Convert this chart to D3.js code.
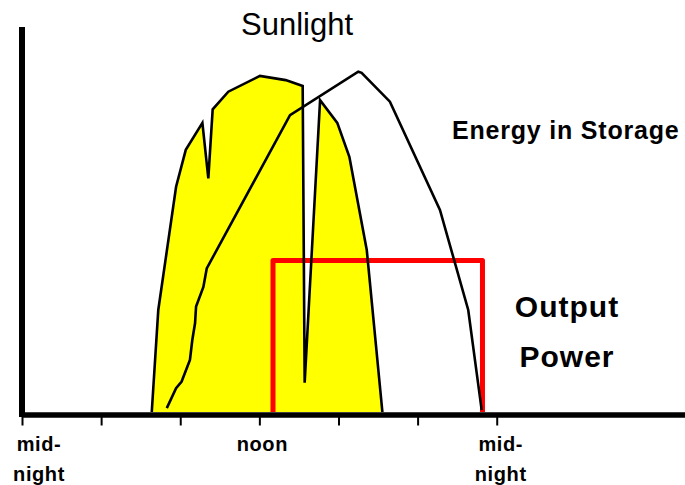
<!DOCTYPE html>
<html>
<head>
<meta charset="utf-8">
<script src="https://cdn.jsdelivr.net/npm/d3@7"></script>
<style>
  body { margin: 0; background: #fff; }
  text { font-family: "Liberation Sans", Arial, sans-serif; fill: #000; }
</style>
</head>
<body>
<div id="chart"></div>
<script>
// hours since midnight, storage/sun level 0..100
var sunHours = [6.56, 6.89, 7.79, 8.28, 9.12, 9.42, 9.64, 10.43, 12.03, 13.33, 14.19, 14.29, 15.07, 15.94, 16.55, 17.43, 18.22];
var sunValues = [0, 26.5, 58.5, 68.1, 75.1, 60.7, 78.6, 83.2, 87.3, 86.2, 84.7, 7.6, 81.0, 75.1, 66.3, 42.1, 0];

var energyHours = [7.32, 7.79, 8.07, 8.49, 8.61, 8.75, 8.80, 9.17, 9.34, 13.55, 17.00, 17.17, 18.60, 21.13, 22.56, 23.24];
var energyValues = [1.0, 6.2, 7.9, 13.5, 18.7, 23.1, 27.4, 32.5, 37.3, 77.1, 88.4, 88.1, 80.6, 52.5, 26.5, 0.5];

var outputHours = [12.69, 12.69, 23.28, 23.28];
var outputValues = [0, 39.35, 39.35, 0];

var tickHours = [0, 4, 8, 12, 16, 20, 24];
var labelHours = [0, 12, 24];
var labelLines = [["mid-", "night"], ["noon"], ["mid-", "night"]];

var width = 685, height = 485;

var svg = d3.select("#chart")
	.append("svg")
		.attr("width", width)
		.attr("height", height);

// scales
var x = d3.scaleLinear()
	.domain([0, 34])
	.range([22, 22 + 34 * 19.78]);

var y = d3.scaleLinear()
	.domain([0, 100])
	.range([412, 27]);

var sun = sunHours.map(function(h, i){ return {h: h, v: sunValues[i]}; });
var energy = energyHours.map(function(h, i){ return {h: h, v: energyValues[i]}; });
var output = outputHours.map(function(h, i){ return {h: h, v: outputValues[i]}; });

var line = d3.line()
	.x(function(d){ return x(d.h); })
	.y(function(d){ return y(d.v); });

var area = d3.area()
	.x(function(d){ return x(d.h); })
	.y0(y(0))
	.y1(function(d){ return y(d.v); });

// sunlight fill
svg.append("path")
	.datum(sun)
	.attr("d", area)
	.attr("fill", "#ffff00");

// output power
svg.append("path")
	.datum(output)
	.attr("d", line)
	.attr("fill", "none")
	.attr("stroke", "#ff0000")
	.attr("stroke-width", 5)
	.attr("stroke-linejoin", "round");

// sunlight outline
svg.append("path")
	.datum(sun)
	.attr("d", line)
	.attr("fill", "none")
	.attr("stroke", "#000")
	.attr("stroke-width", 2.6);

// energy in storage
svg.append("path")
	.datum(energy)
	.attr("d", line)
	.attr("fill", "none")
	.attr("stroke", "#000")
	.attr("stroke-width", 2.6);

// x axis
var xAxisCall = d3.axisBottom(x)
	.tickValues(tickHours)
	.tickSize(11)
	.tickSizeOuter(0)
	.tickFormat("");
var xAxis = svg.append("g")
	.attr("transform", "translate(0," + (y(0) + 2.5) + ")")
	.call(xAxisCall);
xAxis.select(".domain")
	.attr("stroke", "#000")
	.attr("stroke-width", 5.5);
xAxis.selectAll(".tick line")
	.attr("stroke", "#000")
	.attr("stroke-width", 2);

// y axis
var yAxisCall = d3.axisLeft(y)
	.tickValues([])
	.tickSizeOuter(0);
var yAxis = svg.append("g")
	.attr("transform", "translate(" + x(0) + ",0)")
	.call(yAxisCall);
yAxis.select(".domain")
	.attr("d", "M0," + (y(0) + 5) + "V" + y(100))
	.attr("stroke", "#000")
	.attr("stroke-width", 6);

// tick labels
var labelDx = [17, 3, 4];
labelHours.forEach(function(h, i){
	labelLines[i].forEach(function(t, j){
		svg.append("text")
			.attr("x", x(h) + labelDx[i])
			.attr("y", 451 + j * 30)
			.attr("text-anchor", "middle")
			.attr("font-size", "20px")
			.attr("font-weight", "bold")
			.attr("letter-spacing", "0.6px")
			.text(t);
	});
});

// title
svg.append("text")
	.attr("x", 297)
	.attr("y", 35)
	.attr("text-anchor", "middle")
	.attr("font-size", "31px")
	.text("Sunlight");

svg.append("text")
	.attr("x", 452)
	.attr("y", 139)
	.attr("font-size", "25px")
	.attr("font-weight", "bold")
	.attr("letter-spacing", "0.8px")
	.text("Energy in Storage");

svg.append("text")
	.attr("x", 567)
	.attr("y", 317)
	.attr("text-anchor", "middle")
	.attr("font-size", "30px")
	.attr("font-weight", "bold")
	.attr("letter-spacing", "1px")
	.text("Output");

svg.append("text")
	.attr("x", 567)
	.attr("y", 367)
	.attr("text-anchor", "middle")
	.attr("font-size", "30px")
	.attr("font-weight", "bold")
	.attr("letter-spacing", "1px")
	.text("Power");
</script>
</body>
</html>
